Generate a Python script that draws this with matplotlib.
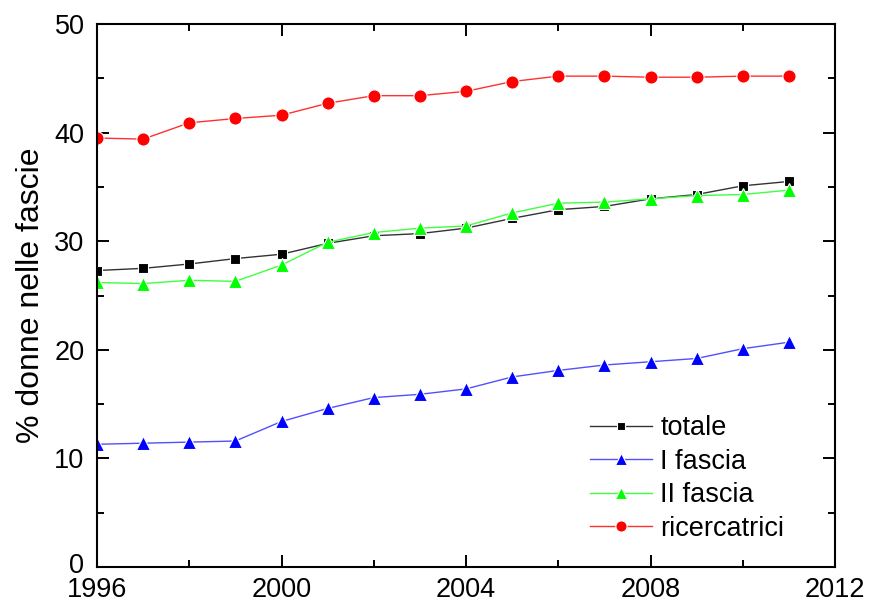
import matplotlib
matplotlib.use("Agg")
import matplotlib.pyplot as plt
import matplotlib.transforms as mtransforms
from matplotlib.ticker import MultipleLocator

plt.rcParams['font.family'] = ['Liberation Sans', 'DejaVu Sans']

years = list(range(1996, 2012))
totale = [27.3, 27.5, 27.9, 28.4, 28.8, 29.8, 30.5, 30.7, 31.2, 32.1, 32.9, 33.2, 33.9, 34.3, 35.1, 35.5]
i_fascia = [11.3, 11.4, 11.5, 11.6, 13.4, 14.6, 15.6, 15.9, 16.4, 17.5, 18.1, 18.6, 18.9, 19.2, 20.1, 20.7]
ii_fascia = [26.2, 26.1, 26.4, 26.3, 27.8, 29.9, 30.8, 31.2, 31.4, 32.6, 33.5, 33.6, 33.9, 34.2, 34.3, 34.7]
ricercatrici = [39.5, 39.4, 40.9, 41.3, 41.6, 42.7, 43.4, 43.4, 43.8, 44.7, 45.2, 45.2, 45.1, 45.1, 45.2, 45.2]
labels = ["totale", "I fascia", "II fascia", "ricercatrici"]

fig = plt.figure(figsize=(8.69, 6.03), dpi=100)
ax = fig.add_axes([97/869, 1-567/603, (835-97)/869, (567-24)/603])

ax.plot(years, totale, color='#333333', lw=1.0, marker='s', ms=7.5,
        mfc='black', mec='white', mew=0.8, label=labels[0])
ax.plot(years, i_fascia, color='#5050ff', lw=1.0, marker='^', ms=10,
        mfc='#0000ff', mec='white', mew=0.8, label=labels[1])
ax.plot(years, ii_fascia, color='#40ff40', lw=1.0, marker='^', ms=10,
        mfc='#00ff00', mec='white', mew=0.8, label=labels[2])
ax.plot(years, ricercatrici, color='#ff3030', lw=1.0, marker='o', ms=9.5,
        mfc='#ff0000', mec='white', mew=0.8, label=labels[3])

ax.set_xlim(1996, 2012)
ax.set_ylim(0, 50)
ax.xaxis.set_major_locator(MultipleLocator(4))
ax.xaxis.set_minor_locator(MultipleLocator(2))
ax.yaxis.set_major_locator(MultipleLocator(10))
ax.yaxis.set_minor_locator(MultipleLocator(5))
ax.tick_params(which='both', direction='in', top=True, right=True, width=1.4,
               labelsize=19.5)
ax.tick_params(axis='y', pad=9)
ax.tick_params(axis='x', pad=7.5)
ax.tick_params(which='major', length=8.6)
ax.tick_params(which='minor', length=5)
for s in ax.spines.values():
    s.set_linewidth(1.5)

ax.set_ylabel("% donne nelle fascie", fontsize=23, labelpad=6)

ax.legend(loc='upper left', bbox_to_anchor=(590/869, 1-415/603),
          bbox_transform=fig.transFigure, frameon=False, fontsize=19.5,
          handlelength=2.3, handletextpad=0.3, labelspacing=0.28,
          borderpad=0, borderaxespad=0, markerscale=0.85)

# nudge the "0" label slightly upward so it does not collide with "1996"
fig.canvas.draw()
ylabels = ax.get_yticklabels()
for lab in ylabels:
    if lab.get_text() == '0':
        lab.set_transform(lab.get_transform() +
                          mtransforms.ScaledTranslation(0, 3/72, fig.dpi_scale_trans))

fig.savefig("out.png", dpi=100)
